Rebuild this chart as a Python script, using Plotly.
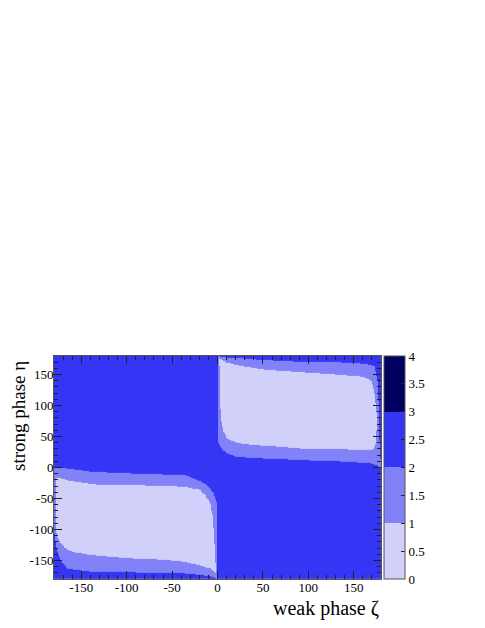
import numpy as np
import plotly.graph_objects as go

# ---------------- data ----------------
# contour levels / colour bands of the z-axis
LEVELS = [0, 1, 2, 3, 4]
BAND_COLORS = ["#d0d0fa", "#8282f8", "#3535f5", "#00005f"]
CB_TICKS = [0, 0.5, 1, 1.5, 2, 2.5, 3, 3.5, 4]
AXIS_TICKS = [-150, -100, -50, 0, 50, 100, 150]

# Upper block (weak phase > 0): strong-phase boundaries vs weak phase
UP_OUT_LO_Z = [0, 0.3, 1, 2.8, 6, 10, 19.3, 35, 50, 91, 135, 168, 176, 180]
UP_OUT_LO_E = [45, 43, 40, 34, 28, 23.4, 18, 16, 15, 12, 10, 7.3, 3, -1]
UP_OUT_HI_Z = [0, 10, 19.3, 47, 90, 135.6, 157, 168, 172.8, 176, 177.1, 177.6, 178.7, 179.5, 180]
UP_OUT_HI_E = [180, 178, 177, 174, 171, 170, 168, 166, 163.5, 142, 115, 80, 23.4, 12, 8]
UP_IN_LO_Z = [1.7, 2, 2.8, 3.9, 6.4, 10, 19.3, 30, 47, 90, 135.6, 160, 168, 172, 174.2, 175, 175.4]
UP_IN_LO_E = [176, 172, 104, 77, 58.5, 47.6, 40.7, 38, 36, 31, 30, 28.5, 28, 30, 40, 60, 80]
UP_IN_HI_Z = [1.7, 2.8, 10, 19.3, 47, 90, 135.6, 157, 165, 169.8, 172.7, 174.2, 175, 175.4]
UP_IN_HI_E = [176, 175, 170, 166, 159, 154, 150, 147, 144, 139, 120, 101, 88, 80]

# Lower block (weak phase < 0)
LO_OUT_HI_Z = [-180, -134, -90, -36, -19.3, -12, -4.6, -2, -0.9, -0.8]
LO_OUT_HI_E = [0.8, -7.3, -9.8, -12, -22, -27.7, -41, -52, -57, -180]
LO_OUT_LO_Z = [-180, -179, -177.5, -174, -171.6, -165, -134, -90, -36, -19.3, -5, -0.9, -0.8]
LO_OUT_LO_E = [-100, -115, -130, -145, -152.7, -163.5, -168.8, -169.5, -171, -173, -176, -180, -180]
LO_IN_HI_Z = [-178.3, -177.8, -176, -173.5, -168, -160, -150, -134, -100, -60, -36, -19.3, -13.8, -8.3, -5.3, -3.9, -2.8, -1.8]
LO_IN_HI_E = [-60, -18, -16, -17, -19, -22, -24, -27, -28.5, -29.5, -31, -36, -44, -57, -79, -111, -138, -170]
LO_IN_LO_Z = [-178.3, -177.8, -176, -173.5, -168, -158.8, -134, -100, -60, -36, -19.3, -8, -4, -2.8, -1.8]
LO_IN_LO_E = [-60, -104, -112, -120, -130, -136.5, -142, -146, -149, -152, -158, -163, -168, -170.5, -170]

# ---------------- grid built from the boundary arrays ----------------
zeta = np.unique(np.concatenate([
    np.arange(-180, -170, 0.1), np.arange(-170, -6, 0.5), np.arange(-6, 6, 0.1),
    np.arange(6, 170, 0.5), np.arange(170, 180.0001, 0.1)]))
eta = np.arange(-180, 180.001, 0.5)
Z, E = np.meshgrid(zeta, eta)
val = np.full(Z.shape, 2.5)


def region(zk_lo, ek_lo, zk_hi, ek_hi):
    a = max(zk_lo[0], zk_hi[0])
    b = min(zk_lo[-1], zk_hi[-1])
    lo = np.interp(zeta, zk_lo, ek_lo)
    hi = np.interp(zeta, zk_hi, ek_hi)
    colok = (zeta >= a) & (zeta <= b)
    return colok[None, :] & (E > lo[None, :]) & (E < hi[None, :])


val[region(UP_OUT_LO_Z, UP_OUT_LO_E, UP_OUT_HI_Z, UP_OUT_HI_E)] = 1.5
val[region(LO_OUT_LO_Z, LO_OUT_LO_E, LO_OUT_HI_Z, LO_OUT_HI_E)] = 1.5
val[region(UP_IN_LO_Z, UP_IN_LO_E, UP_IN_HI_Z, UP_IN_HI_E)] = 0.5
val[region(LO_IN_LO_Z, LO_IN_LO_E, LO_IN_HI_Z, LO_IN_HI_E)] = 0.5
val = val.astype(np.float32)

n = len(BAND_COLORS)
cscale = []
for i, c in enumerate(BAND_COLORS):
    cscale.append([i / n, c])
    cscale.append([(i + 1) / n, c])

FONT = "Liberation Serif, Times New Roman, serif"

fig = go.Figure(go.Heatmap(
    x=zeta, y=eta, z=val, zmin=LEVELS[0], zmax=LEVELS[-1], colorscale=cscale,
    zsmooth=False, hoverinfo="skip",
    colorbar=dict(
        thickness=21, thicknessmode="pixels", len=1, lenmode="fraction",
        x=1.0092, xanchor="left", y=0.5, yanchor="middle", xpad=0, ypad=0,
        tickmode="array", tickvals=CB_TICKS, ticktext=[f"{t:g}" for t in CB_TICKS],
        ticks="inside", ticklen=4, tickcolor="#222", tickwidth=1,
        outlinecolor="#555", outlinewidth=1,
        tickfont=dict(family=FONT, size=13, color="black"),
    ),
))

axis_common = dict(
    range=[-180, 180], showgrid=False, zeroline=False, automargin=False,
    showline=True, linecolor="#555", linewidth=1, mirror="allticks",
    ticks="inside", ticklen=8, tickcolor="#222", tickwidth=1,
    tickmode="array", tickvals=AXIS_TICKS, ticktext=[str(t) for t in AXIS_TICKS],
    tickfont=dict(family=FONT, size=13, color="black"),
    minor=dict(tickmode="array", tickvals=list(range(-170, 180, 10)),
               ticks="inside", ticklen=4, tickcolor="#222", tickwidth=1),
)
fig.update_xaxes(**axis_common, ticklabelstandoff=-4)
fig.update_yaxes(**axis_common, ticklabelstandoff=-3)

fig.add_annotation(text="weak phase ζ", xref="paper", yref="paper", x=1, y=0,
                   xanchor="right", yanchor="top", yshift=-16, showarrow=False,
                   font=dict(family=FONT, size=20, color="black"))
fig.add_annotation(text="strong phase η", xref="paper", yref="paper", x=0, y=1,
                   xanchor="center", yanchor="top", xshift=-36, yshift=-4,
                   textangle=-90, showarrow=False, borderpad=0,
                   font=dict(family=FONT, size=19, color="black"))

# the page body adds an 8px offset, so the figure is 8px smaller on each side
fig.update_layout(
    width=477, height=620,
    margin=dict(l=46, r=104, t=348, b=49, autoexpand=False),
    paper_bgcolor="white", plot_bgcolor="white",
    showlegend=False,
)

fig.write_html("out.html")
